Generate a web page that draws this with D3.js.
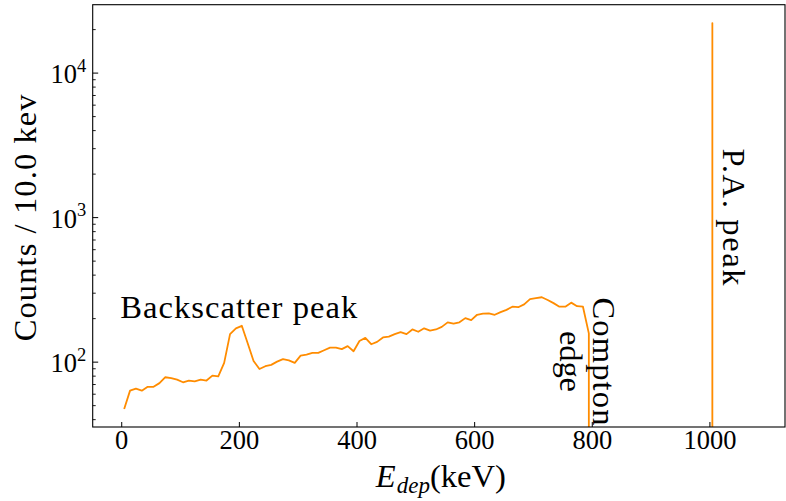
<!DOCTYPE html>
<html><head><meta charset="utf-8">
<script src="https://cdn.jsdelivr.net/npm/d3@7"></script>
<style>body{margin:0;background:#fff} svg{display:block}</style>
</head><body><svg id="c" width="786" height="501"></svg>
<script>
// ---- data ----
const energies = [5,15,25,35,45,55,65,75,85,95,105,115,125,135,145,155,165,175,185,195,
  205,215,225,235,245,255,265,275,285,295,305,315,325,335,345,355,365,375,385,395,
  405,415,425,435,445,455,465,475,485,495,505,515,525,535,545,555,565,575,585,595,
  605,615,625,635,645,655,665,675,685,695,705,715,725,735,745,755,765,775,785,795,
  805,815,825,835,845,855,865,875,885,895,905,915,925,935,945,955,965,975,985,995,
  1005,1015,1025,1035,1045,1055,1065,1075];
const counts = [47,63,65,63,67,67,71,78,77,75,72,74,73,75,74,80,79,98,155,170,
  177,134,101,89,93,95,100,104,102,98,110,112,115,115,120,125,125,122,128,118,
  139,146,132,137,147,149,155,160,155,167,161,170,164,167,174,187,183,187,200,194,
  211,215,216,211,220,228,240,238,249,271,275,279,267,254,240,240,256,242,240,157,
  0,0,0,0,0,0,0,0,0,0,0,0,0,0,0,0,0,0,0,0,
  22000,0,0,0,0,0,0,0];
const xTickValues = [0,200,400,600,800,1000];
const yMajorTickValues = [100,1000,10000];
const xDomain = [-48.5, 1128.5];
const yDomain = [35.3, 29500];
const yLabelText = "Counts / 10.0 kev";
const backscatterLabel = "Backscatter peak";
const comptonLines = ["Compton","edge"];
const paLabel = "P.A. peak";

// ---- layout ----
const svg = d3.select("#c");
const L = 92.7, R = 785, T = 4.7, B = 427;
const x = d3.scaleLinear().domain(xDomain).range([L, R]);
const y = d3.scaleLog().domain(yDomain).range([B, T]);
const FONT = "'Liberation Serif', 'Times New Roman', serif";
const ORANGE = "#ff8c00";

svg.append("defs").append("clipPath").attr("id","clip")
  .append("rect").attr("x",L).attr("y",T).attr("width",R-L).attr("height",B-T);

// line (nonpositive values clipped far below, as in matplotlib)
const pts = energies.map((e,i)=>[e,counts[i]]);
const line = d3.line()
  .x(d=>x(d[0]))
  .y(d=> d[1] > 0 ? y(d[1]) : B + 200000);
svg.append("path").datum(pts)
  .attr("clip-path","url(#clip)")
  .attr("fill","none").attr("stroke",ORANGE).attr("stroke-width",1.8)
  .attr("stroke-linejoin","round")
  .attr("d", line);

// frame
svg.append("rect").attr("x",L).attr("y",T).attr("width",R-L).attr("height",B-T)
  .attr("fill","none").attr("stroke","#000").attr("stroke-width",1.1);

// x ticks (inward)
const xAxis = d3.axisBottom(x).tickValues(xTickValues).tickSize(-5).tickPadding(0).tickFormat(d3.format("d"));
const gx = svg.append("g").attr("transform",`translate(0,${B})`).call(xAxis);
gx.select(".domain").remove();
gx.selectAll(".tick line").attr("stroke","#000").attr("stroke-width",1);
gx.selectAll(".tick text").attr("font-family",FONT).attr("font-size",26.5)
  .attr("fill","#000").attr("y",22).attr("dy",0);

// y ticks (inward) major + minor
const minorVals = y.ticks().filter(v => Math.abs(Math.log10(v) - Math.round(Math.log10(v))) > 1e-6);
const gyMinor = svg.append("g").attr("transform",`translate(${L},0)`)
  .call(d3.axisLeft(y).tickValues(minorVals).tickSize(-3).tickFormat(""));
gyMinor.select(".domain").remove();
gyMinor.selectAll(".tick line").attr("stroke","#000").attr("stroke-width",0.9);

const gy = svg.append("g").attr("transform",`translate(${L},0)`)
  .call(d3.axisLeft(y).tickValues(yMajorTickValues).tickSize(-5.5).tickFormat(""));
gy.select(".domain").remove();
gy.selectAll(".tick line").attr("stroke","#000").attr("stroke-width",1);
gy.selectAll(".tick").each(function(d){
  const t = d3.select(this).append("text")
    .attr("x",-6.5).attr("y",10.3).attr("text-anchor","end")
    .attr("font-family",FONT).attr("font-size",26.5).attr("fill","#000")
    .text("10");
  t.append("tspan").attr("dy",-11.5).attr("font-size",18.5).text(String(Math.round(Math.log10(d))));
});

// axis labels
svg.append("text")
  .attr("transform",`translate(36,${(T+B)/2 + 2}) rotate(-90)`)
  .attr("text-anchor","middle").attr("font-family",FONT).attr("font-size",32.6)
  .attr("textLength",247).attr("lengthAdjust","spacing")
  .text(yLabelText);

const xl = svg.append("text")
  .attr("x",(L+R)/2 + 2).attr("y",487).attr("text-anchor","middle")
  .attr("font-family",FONT).attr("font-size",32.6).attr("fill","#000");
xl.append("tspan").attr("font-style","italic").text("E");
xl.append("tspan").attr("font-style","italic").attr("font-size",23).attr("dy",6).attr("dx",1).text("dep");
xl.append("tspan").attr("dy",-6).text("(keV)");

// annotations
svg.append("text").attr("x",x(0)-1).attr("y",y(200))
  .attr("font-family",FONT).attr("font-size",32.6)
  .attr("textLength",237).attr("lengthAdjust","spacing")
  .text(backscatterLabel);

const compCenterY = 361.5;
const comptonBaselines = [593, 560];
comptonLines.forEach((s,i)=>{
  svg.append("text")
    .attr("transform",`translate(${comptonBaselines[i]},${compCenterY}) rotate(90)`)
    .attr("text-anchor","middle").attr("font-family",FONT).attr("font-size",32.6)
    .attr("textLength", i===0 ? 128 : 61).attr("lengthAdjust","spacing")
    .text(s);
});

svg.append("text")
  .attr("transform",`translate(723,${y(1000)}) rotate(90)`)
  .attr("text-anchor","middle").attr("font-family",FONT).attr("font-size",32.6)
  .attr("textLength",137).attr("lengthAdjust","spacing")
  .text(paLabel);
</script></body></html>
